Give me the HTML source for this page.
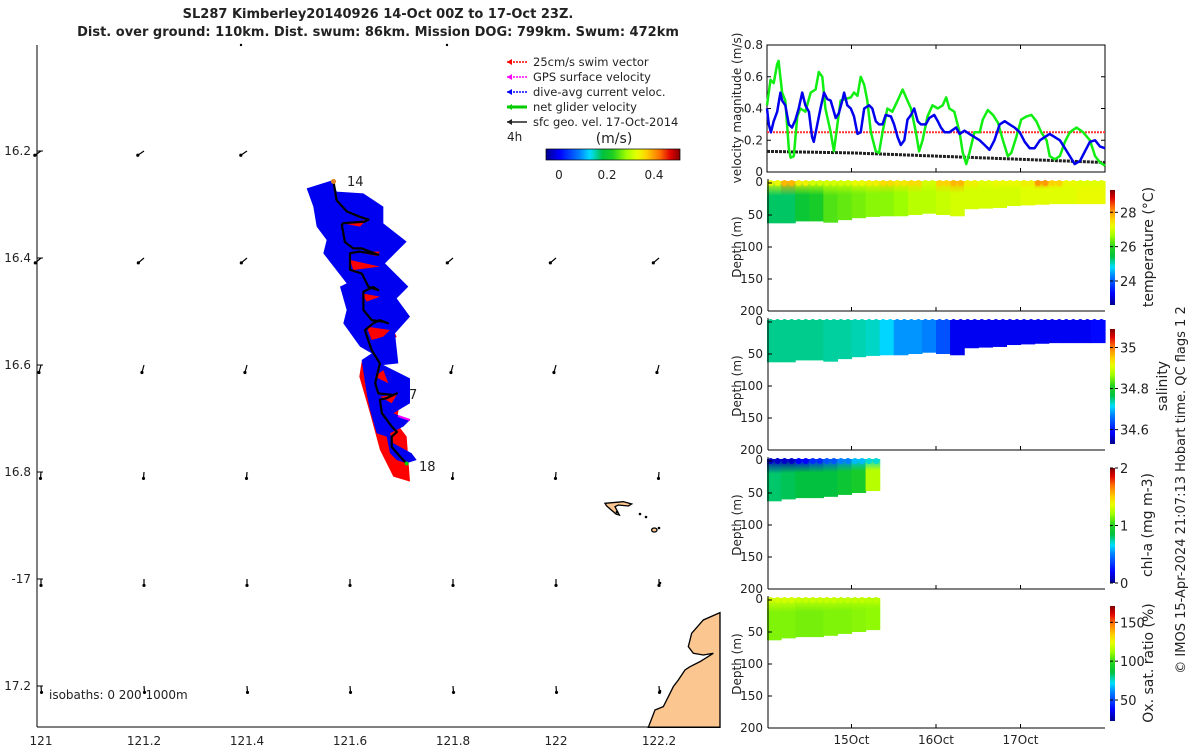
<!DOCTYPE html>
<html><head><meta charset="utf-8"><style>
body{margin:0;background:#fff;width:1200px;height:750px;overflow:hidden;font-family:"Liberation Sans","DejaVu Sans",sans-serif}
svg text{font-family:"DejaVu Sans","Liberation Sans",sans-serif;fill:#222}
</style></head><body>
<svg id="s" width="1200" height="750" viewBox="0 0 1200 750">
<g id="map"></g>
<g id="vel"></g>
<g id="sec"></g>
<text x="378" y="18" text-anchor="middle" font-size="13" font-weight="bold">SL287 Kimberley20140926 14-Oct 00Z to 17-Oct 23Z.</text>
<text x="378" y="36" text-anchor="middle" font-size="13" font-weight="bold">Dist. over ground: 110km. Dist. swum: 86km. Mission DOG: 799km. Swum: 472km</text>
<text transform="translate(1185,490) rotate(-90)" text-anchor="middle" font-size="13">© IMOS 15-Apr-2024 21:07:13 Hobart time. QC flags 1  2</text>
</svg>
<script>
// ---------- data ----------
const lonTicks=[121,121.2,121.4,121.6,121.8,122,122.2];
const latTicks=[16.2,16.4,16.6,16.8,17,17.2];
const latTickLabels=['16.2','16.4','16.6','16.8','-17','17.2'];
const arrowU=[-0.012,-0.011,-0.004,-0.001,0,0.001];
const arrowV=[0.008,0.009,0.014,0.012,0.012,0.012];
const trackLon=[121.568,121.574,121.594,121.619,121.636,121.629,121.587,121.584,121.590,121.606,121.623,121.655,121.619,121.600,121.600,121.623,121.636,121.655,121.645,121.626,121.626,121.642,121.665,121.674,121.658,121.645,121.629,121.642,121.658,121.655,121.649,121.655,121.684,121.691,121.671,121.658,121.662,121.681,121.691,121.681,121.681,121.697,121.710];
const trackLat=[16.257,16.292,16.313,16.323,16.328,16.332,16.335,16.338,16.370,16.382,16.382,16.394,16.388,16.391,16.422,16.429,16.454,16.460,16.454,16.463,16.497,16.516,16.519,16.522,16.516,16.522,16.535,16.572,16.597,16.609,16.634,16.653,16.656,16.653,16.662,16.665,16.690,16.715,16.725,16.734,16.753,16.771,16.784];
const velTicks=[0,0.2,0.4,0.6,0.8];
const greenT=[0,1,1.9,2.9,3.3,4.3,5.2,6.2,6.7,7.6,8.6,9.5,10.9,12.4,13.8,14.7,15.7,16.6,18.1,19,20,20.9,22.3,23.8,24.7,25.7,26.6,27.6,28.5,29.5,30.9,31.8,32.8,34.2,35.6,37.1,38.5,39.9,40.9,42.3,43.2,44.2,45.6,47,48.5,49.9,50.9,51.8,53.2,54.7,55.6,56.6,57.5,58.9,60.4,61.3,62.7,64.2,65.6,67,68.4,69.4,70.8,72.2,73.7,75.1,76.5,77.9,79.4,80.3,81.7,83.2,84.6,86,87.9,89.8,91.7,93.2,94.6,96];
const greenV=[0.42,0.58,0.56,0.68,0.70,0.50,0.45,0.15,0.09,0.10,0.35,0.40,0.38,0.50,0.52,0.63,0.60,0.40,0.25,0.13,0.30,0.45,0.46,0.47,0.50,0.48,0.60,0.55,0.45,0.25,0.13,0.12,0.25,0.40,0.38,0.45,0.52,0.45,0.40,0.25,0.13,0.20,0.35,0.42,0.40,0.42,0.47,0.40,0.38,0.25,0.12,0.05,0.12,0.25,0.25,0.33,0.39,0.36,0.31,0.20,0.10,0.12,0.22,0.33,0.35,0.36,0.32,0.25,0.20,0.10,0.08,0.10,0.19,0.25,0.28,0.25,0.20,0.10,0.06,0.04];
const blueT=[0,0.5,1.1,1.9,2.9,3.8,4.3,5.2,6.2,7.1,8.1,9,10,10.9,11.9,12.8,13.3,14.3,15.2,16.2,17.1,18.1,19,19.5,20.4,21.4,21.9,22.8,23.8,24.7,25.7,26.6,27.6,29,29.9,30.9,31.8,32.8,33.7,35.2,36.1,37.1,38,39,39.9,40.9,41.8,42.8,43.7,45.1,46.1,47.5,48.5,49.4,50.4,51.8,53.7,54.7,56.1,57.5,58.9,60.4,61.8,63.2,64.6,66.1,67.5,68.9,70.3,71.8,73.2,74.6,76,77.5,78.9,80.3,81.7,83.2,84.6,86,87.4,88.9,90.3,91.7,93.2,94.6,96];
const blueV=[0.40,0.30,0.25,0.32,0.38,0.50,0.45,0.42,0.30,0.28,0.33,0.40,0.50,0.42,0.38,0.22,0.19,0.30,0.40,0.50,0.46,0.45,0.38,0.34,0.37,0.45,0.50,0.42,0.40,0.35,0.24,0.25,0.40,0.42,0.40,0.32,0.30,0.30,0.36,0.35,0.30,0.22,0.17,0.20,0.33,0.36,0.40,0.32,0.30,0.30,0.34,0.36,0.32,0.28,0.25,0.25,0.28,0.24,0.26,0.24,0.22,0.20,0.17,0.14,0.20,0.30,0.32,0.30,0.28,0.25,0.19,0.15,0.15,0.20,0.22,0.24,0.22,0.20,0.15,0.10,0.05,0.07,0.13,0.19,0.20,0.16,0.15];
const geoT=[0,24,48,72,96];
const geoV=[0.13,0.12,0.10,0.08,0.06];
const swimV=0.25;
const dayTicks=[24,48,72];
const dayLabels=['15Oct','16Oct','17Oct'];
const depthTicks=[0,50,100,150,200];
const colHours=4;
const tsBottom=[63,63,60,60,62,58,55,53,52,52,50,48,50,52,41,40,39,36,35,34,33,33,33,33];
const tempSurf=[27.2,27.8,27.3,27.0,27.0,27.0,27.2,27.3,27.5,27.4,27.5,27.0,27.6,27.8,27.3,27.1,27.2,27.2,27.3,28.0,27.6,27.2,27.1,27.1];
const tempDeep=[25.3,25.3,25.6,25.8,26.2,26.3,26.4,26.5,26.5,26.6,26.8,26.8,26.9,27.0,27.0,27.0,27.0,27.0,27.1,27.1,27.1,27.1,27.2,27.2];
const salVal=[34.745,34.745,34.745,34.745,34.74,34.74,34.735,34.73,34.71,34.68,34.68,34.67,34.64,34.58,34.58,34.58,34.58,34.58,34.58,34.58,34.58,34.58,34.58,34.59];
const bgcBottom=[63,60,58,58,56,53,50,47];
const chlSurf=[0.1,0.1,0.2,0.3,0.4,0.5,0.6,0.7];
const chlDeep=[0.8,0.82,0.85,0.85,0.85,0.9,0.95,1.25];
const oxSurf=[120,120,118,118,118,117,117,116];
const oxDeep=[108,108,107,107,108,108,109,110];

// ---------- helpers ----------
const NS='http://www.w3.org/2000/svg';
function mk(tag,attrs,parent){const e=document.createElementNS(NS,tag);for(const k in attrs)e.setAttribute(k,attrs[k]);parent.appendChild(e);return e;}
function cl(v){return Math.max(0,Math.min(1,v));}
const CM=[[0,0,0,143],[0.1,0,0,255],[0.25,0,128,255],[0.33,0,224,255],[0.42,0,192,64],[0.5,32,208,32],[0.6,160,255,0],[0.68,232,255,0],[0.75,255,208,0],[0.85,255,112,0],[0.93,224,0,0],[1,128,0,0]];
function jet(t){t=cl(t);for(let i=1;i<CM.length;i++){if(t<=CM[i][0]){const a=CM[i-1],b=CM[i],f=(t-a[0])/(b[0]-a[0]);return `rgb(${Math.round(a[1]+f*(b[1]-a[1]))},${Math.round(a[2]+f*(b[2]-a[2]))},${Math.round(a[3]+f*(b[3]-a[3]))})`;}}return 'rgb(128,0,0)';}
const defs=mk('defs',{},document.getElementById('s'));
let gid=0;
function jetGrad(vertical,reverse){const id='g'+(gid++);const g=mk('linearGradient',{id:id,x1:0,y1:vertical?(reverse?1:0):0,x2:vertical?0:1,y2:vertical?(reverse?0:1):0},defs);for(let i=0;i<=40;i++)mk('stop',{offset:i/40,'stop-color':jet(i/40)},g);return id;}

// ---------- map ----------
const map=document.getElementById('map');
const LX=lon=>41+(lon-121)*515;
const LY=lat=>151+(lat-16.2)*535;
let p=mk('path',{d:'M265,742 L285,690 L310,680 L325,650 L340,620 L355,600 L375,570 L390,560 L420,545 L460,520 L430,525 L400,520 L385,500 L395,460 L430,420 L480,398 L480,742 Z',transform:'translate(560,480) scale(0.3333)',fill:'#fcc690',stroke:'#000','stroke-width':4},map);

p=mk('path',{d:'M135,70 L190,65 L215,72 L205,78 L175,75 L165,80 L178,105 L168,102 L140,78 Z M275,150 a8,6 0 1,0 16,0 a8,6 0 1,0 -16,0',transform:'translate(560,480) scale(0.3333)',fill:'#fcc690',stroke:'#000','stroke-width':4},map);

[[617,512],[640,514],[646,517],[659,528],[660,583],[660,691]].forEach(c=>{mk('circle',{cx:c[0],cy:c[1],r:1.3,fill:'#000'},map);});
mk('line',{x1:37,y1:45,x2:37,y2:727,stroke:'#000'},map);
mk('line',{x1:37,y1:727,x2:720,y2:727,stroke:'#000'},map);
lonTicks.forEach(l=>{const t=mk('text',{x:LX(l),y:745,'text-anchor':'middle','font-size':12},map);t.textContent=String(l);});
latTicks.forEach((l,i)=>{const y=LY(l);mk('line',{x1:37,y1:y,x2:43,y2:y,stroke:'#000'},map);const t=mk('text',{x:31,y:y+4,'text-anchor':'end','font-size':12},map);t.textContent=latTickLabels[i];});
latTicks.forEach((la,j)=>{lonTicks.forEach(lo=>{
  if(lo===121.6&&j<4)return; if(lo===121.8&&j<1)return;
  const x=LX(lo),y=LY(la),x2=LX(lo+arrowU[j]),y2=LY(la+arrowV[j]);
  const g=mk('g',{},map);
  mk('line',{x1:x,y1:y,x2:x2,y2:y2,stroke:'#000','stroke-width':1.2},g);
  mk('circle',{cx:x2,cy:y2,r:1.6,fill:'#000'},g);
});});
mk('circle',{cx:241,cy:45,r:1.2,fill:'#000'},map);mk('circle',{cx:447,cy:45,r:1.2,fill:'#000'},map);
p=mk('path',{d:'M200,470 L280,480 L290,500 L260,530 L240,540 L215,520 Z M185,575 L240,600 L300,690 L290,760 L320,800 L330,935 L280,920 L240,840 L210,730 L178,620 Z',transform:'translate(300,170) scale(0.3333)',fill:'#f00'},map);

p=mk('path',{d:'M20,55 L100,30 L110,65 L190,70 L250,110 L250,160 L320,215 L255,280 L325,350 L290,385 L330,440 L285,490 L295,580 L250,585 L330,625 L330,700 L280,730 L330,750 L310,770 L270,790 L280,820 L335,850 L350,870 L320,880 L290,870 L270,850 L260,800 L230,790 L210,720 L200,670 L185,570 L215,550 L180,530 L130,460 L140,420 L120,350 L140,340 L70,250 L80,210 L50,170 L40,110 Z',transform:'translate(300,170) scale(0.3333)',fill:'#0000f0'},map);

p=mk('path',{d:'M130,160 L200,150 L180,170 Z M170,245 L240,245 L230,258 Z M150,270 L240,290 L160,300 Z M185,370 L240,380 L200,395 Z M200,470 L270,480 L250,500 L215,510 Z M225,620 L250,600 L265,640 Z M240,680 L290,675 L275,700 Z',transform:'translate(300,170) scale(0.3333)',fill:'#f00'},map);

mk('path',{d:'M398,416 L410,420',stroke:'#f0f','stroke-width':2},map);
let d='';trackLon.forEach((lo,i)=>{d+=(i?'L':'M')+LX(lo).toFixed(1)+','+LY(trackLat[i]).toFixed(1);});
p=mk('path',{d:d,fill:'none',stroke:'#000','stroke-width':2.2,'stroke-linejoin':'round'},map);

mk('circle',{cx:LX(trackLon[0]),cy:LY(trackLat[0]),r:2.5,fill:'#e08020'},map);
mk('circle',{cx:LX(trackLon[trackLon.length-1]),cy:LY(trackLat[trackLat.length-1]),r:2,fill:'#0c0'},map);
[['14',347,186],['7',409,399],['18',419,471]].forEach(a=>{const t=mk('text',{x:a[1],y:a[2],'font-size':13},map);t.textContent=a[0];});
let t=mk('text',{x:49,y:699,'font-size':12},map);t.textContent='isobaths: 0   200  1000m';
const legC=['#f00','#f0f','#00f','#0c0','#222'];
const legT=['25cm/s swim vector','GPS surface velocity','dive-avg current veloc.','net glider velocity','sfc geo. vel. 17-Oct-2014'];
legT.forEach((s,i)=>{const y=62+i*15;const g=mk('g',{},map);
  mk('line',{x1:507,y1:y,x2:527,y2:y,stroke:legC[i],'stroke-width':i===3?3:1.5,'stroke-dasharray':i<3?'2,1':''},g);
  mk('path',{d:`M507,${y} l5,-3 l0,6 z`,fill:legC[i]},g);
  const tt=mk('text',{x:533,y:y+4,'font-size':11.5},g);tt.textContent=s;});
t=mk('text',{x:507,y:141,'font-size':12},map);t.textContent='4h';
t=mk('text',{x:614,y:143,'text-anchor':'middle','font-size':14},map);t.textContent='(m/s)';
p=mk('rect',{x:546,y:149,width:134,height:11,fill:'url(#'+jetGrad(false)+')',stroke:'#000','stroke-width':0.7},map);

[['0',559],['0.2',607],['0.4',654]].forEach(a=>{const tt=mk('text',{x:a[1],y:179,'text-anchor':'middle','font-size':12},map);tt.textContent=a[0];});

// ---------- velocity panel ----------
const vel=document.getElementById('vel');
const TX=h=>767+h/96*338;
const VY=v=>172-v/0.8*127;
mk('rect',{x:767,y:45,width:338,height:127,fill:'none',stroke:'#000'},vel);
velTicks.forEach(v=>{const y=VY(v);mk('line',{x1:767,y1:y,x2:771,y2:y,stroke:'#000'},vel);mk('line',{x1:1101,y1:y,x2:1105,y2:y,stroke:'#000'},vel);
  const tt=mk('text',{x:763,y:y+4,'text-anchor':'end','font-size':12},vel);tt.textContent=String(v);});
dayTicks.forEach(h=>{mk('line',{x1:TX(h),y1:172,x2:TX(h),y2:168,stroke:'#000'},vel);mk('line',{x1:TX(h),y1:45,x2:TX(h),y2:49,stroke:'#000'},vel);});
function line(T,V,col,w,name,dash){let dd='';T.forEach((h,i)=>{dd+=(i?'L':'M')+TX(h).toFixed(1)+','+VY(V[i]).toFixed(1);});const e=mk('path',{d:dd,fill:'none',stroke:col,'stroke-width':w,'stroke-linejoin':'round','stroke-dasharray':dash||''},vel);}
line([0,96],[swimV,swimV],'#f33',2,'swim-speed-line','2,1');
line(geoT,geoV,'#222',3,'geostrophic-speed-line','3,1');
line(greenT,greenV,'#1e1',2.5,'net-glider-velocity-line');
line(blueT,blueV,'#00e',2.5,'dive-avg-current-line');
t=mk('text',{transform:'translate(741,108) rotate(-90)','text-anchor':'middle','font-size':12},vel);t.textContent='velocity magnitude (m/s)';

// ---------- section panels ----------
const sec=document.getElementById('sec');
function panel(top,name,cbTop,cbMin,cbMax,cbTicks,label,lx,bottoms,surf,deep,last){
  const g=mk('g',{},sec);
  const DY=d=>top+d/200*128;
  const norm=v=>(v-cbMin)/(cbMax-cbMin);
  bottoms.forEach((b,i)=>{const id='c'+(gid++);const lg=mk('linearGradient',{id:id,x1:0,y1:0,x2:0,y2:1},defs);
    mk('stop',{offset:0,'stop-color':jet(norm(surf[i]))},lg);mk('stop',{offset:0.35,'stop-color':jet(norm(deep[i]))},lg);mk('stop',{offset:1,'stop-color':jet(norm(deep[i]))},lg);
    const x0=TX(i*colHours),x1=TX((i+1)*colHours);
    const r=mk('rect',{x:x0,y:DY(0)-2,width:x1-x0+0.6,height:DY(b)-DY(0)+2,fill:'url(#'+id+')'},g);
    for(let k=0;k<2;k++){const c=mk('circle',{cx:x0+(k+0.5)*(x1-x0)/2,cy:DY(0),r:3,fill:jet(norm(surf[i]))},g);}
  });
  mk('line',{x1:768,y1:top-4,x2:768,y2:top+128,stroke:'#000'},g);
  mk('line',{x1:768,y1:top+128,x2:1105,y2:top+128,stroke:'#000'},g);
  depthTicks.forEach(dv=>{const y=DY(dv);mk('line',{x1:768,y1:y,x2:772,y2:y,stroke:'#000'},g);const tt=mk('text',{x:763,y:y+(dv===0?3:4),'text-anchor':'end','font-size':12},g);tt.textContent=String(dv);});
  dayTicks.forEach((h,i)=>{mk('line',{x1:TX(h),y1:top+128,x2:TX(h),y2:top+124,stroke:'#000'},g);
    if(last){const tt=mk('text',{x:TX(h),y:top+144,'text-anchor':'middle','font-size':12},g);tt.textContent=dayLabels[i];}});
  const tt=mk('text',{transform:`translate(741,${top+64}) rotate(-90)`,'text-anchor':'middle','font-size':12},g);tt.textContent='Depth (m)';
  const cb=mk('rect',{x:1110,y:cbTop,width:5,height:115,fill:'url(#'+jetGrad(true,true)+')'},g);
  cbTicks.forEach(v=>{const y=cbTop+115-(v-cbMin)/(cbMax-cbMin)*115;mk('line',{x1:1110,y1:y,x2:1113,y2:y,stroke:'#000'},g);mk('line',{x1:1115,y1:y,x2:1118,y2:y,stroke:'#000'},g);
    const q=mk('text',{x:1120,y:y+5,'font-size':13},g);q.textContent=String(v);});
  const lt=mk('text',{transform:`translate(${lx},${cbTop+57}) rotate(-90)`,'text-anchor':'middle','font-size':14},g);lt.textContent=label;
}
panel(183,'temperature-section',190,22.6,29.3,[24,26,28],'temperature (°C)',1153,tsBottom,tempSurf,tempDeep,false);
panel(322,'salinity-section',329,34.53,35.09,[34.6,34.8,35],'salinity',1167,tsBottom,salVal,salVal,false);
panel(461,'chlorophyll-section',468,0,2,[0,1,2],'chl-a (mg m-3)',1152,bgcBottom,chlSurf,chlDeep,false);
panel(600,'oxygen-section',606,23,171,[50,100,150],'Ox. sat. ratio (%)',1153,bgcBottom,oxSurf,oxDeep,true);
</script>
</body></html>
